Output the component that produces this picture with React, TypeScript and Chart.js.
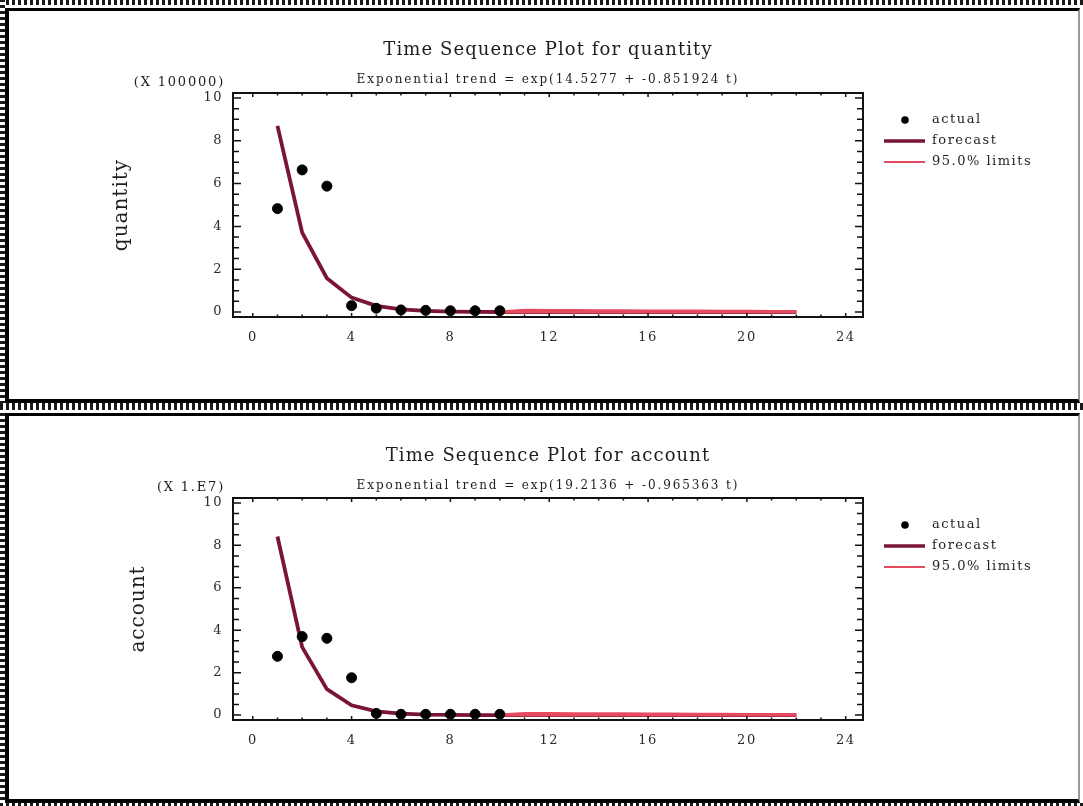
import React, { useEffect, useRef } from 'react';
import { Chart, registerables } from 'chart.js';

Chart.register(...registerables);

// ---------- data ----------
const periods = [1, 2, 3, 4, 5, 6, 7, 8, 9, 10, 11, 12, 13, 14, 15, 16, 17, 18, 19, 20, 21, 22];
const actualPeriods = [1, 2, 3, 4, 5, 6, 7, 8, 9, 10];
const limitPeriods = [10, 11, 12, 13, 14, 15, 16, 17, 18, 19, 20, 21, 22];

const X_TICKS = [0, 4, 8, 12, 16, 20, 24];
const Y_TICKS = [0, 2, 4, 6, 8, 10];

// quantity (x 100000)
const quantityActual = [4.83, 6.64, 5.88, 0.3, 0.18, 0.1, 0.08, 0.06, 0.06, 0.06];
const quantityForecast = [8.696, 3.71, 1.583, 0.675, 0.288, 0.123, 0.0524, 0.0224, 0.0095, 0.0041, 0.0017, 0.0007, 0.0003, 0.0001, 0.00006, 0.00002, 0.00001, 0, 0, 0, 0, 0];
const quantityUpper = [0.0041, 0.08, 0.075, 0.07, 0.065, 0.06, 0.055, 0.05, 0.045, 0.04, 0.035, 0.03, 0.03];
const quantityLower = [0.0041, 0, 0, 0, 0, 0, 0, 0, 0, 0, 0, 0, 0];

// account (x 1.E7)
const accountActual = [2.77, 3.7, 3.62, 1.76, 0.08, 0.04, 0.04, 0.04, 0.04, 0.04];
const accountForecast = [8.416, 3.205, 1.221, 0.465, 0.177, 0.0674, 0.0257, 0.0098, 0.0037, 0.0014, 0.00054, 0.0002, 0.00008, 0.00003, 0.00001, 0, 0, 0, 0, 0, 0, 0];
const accountUpper = [0.0014, 0.08, 0.075, 0.07, 0.065, 0.06, 0.055, 0.05, 0.045, 0.04, 0.035, 0.03, 0.03];
const accountLower = [0.0014, 0, 0, 0, 0, 0, 0, 0, 0, 0, 0, 0, 0];

const FONT = '"DejaVu Serif", "Liberation Serif", serif';
const FORECAST_COLOR = '#7a1535';
const LIMIT_COLOR = '#e64a60';

type PanelProps = {
  title: string;
  subtitle: string;
  unit: string;
  yLabel: string;
  actual: number[];
  forecast: number[];
  upper: number[];
  lower: number[];
  width: number;
  height: number;
  yLabelX: number;
  titleDy: number;
};

const pts = (xs: number[], ys: number[]) => xs.map((x, i) => ({ x, y: ys[i] }));

function Panel(p: PanelProps) {
  const ref = useRef<HTMLCanvasElement | null>(null);
  useEffect(() => {
    if (!ref.current) return;
    const decor = {
      id: 'decor',
      beforeDraw(chart: any) {
        (chart.ctx as any).letterSpacing = '1.5px';
      },
      afterDatasetsDraw(chart: any) {
        const ctx = chart.ctx as any;
        const a = chart.chartArea;
        const xs = chart.scales.x;
        const ys = chart.scales.y;
        ctx.save();
        ctx.strokeStyle = '#111';
        ctx.lineWidth = 1.5;
        // inward ticks
        ctx.beginPath();
        for (let v = 0; v <= 24; v += 1) {
          const px = xs.getPixelForValue(v);
          const len = v % 4 === 0 ? 4 : 2.5;
          ctx.moveTo(px, a.bottom);
          ctx.lineTo(px, a.bottom - len);
          ctx.moveTo(px, a.top);
          ctx.lineTo(px, a.top + len);
        }
        for (let v = 0; v <= 10; v += 0.5) {
          const py = ys.getPixelForValue(v);
          const len = v % 2 === 0 ? 8 : 6;
          ctx.moveTo(a.left, py);
          ctx.lineTo(a.left + len, py);
          ctx.moveTo(a.right, py);
          ctx.lineTo(a.right - len, py);
        }
        ctx.stroke();
        // frame
        ctx.lineWidth = 2;
        ctx.strokeRect(a.left, a.top, a.right - a.left, a.bottom - a.top);

        // titles
        const cx = (a.left + a.right) / 2;
        ctx.fillStyle = '#1e1e1e';
        ctx.textAlign = 'center';
        ctx.textBaseline = 'middle';
        ctx.letterSpacing = '1.1px';
        ctx.font = `18px ${FONT}`;
        ctx.fillText(p.title, cx, a.top - 44 + p.titleDy);
        ctx.letterSpacing = '1.9px';
        ctx.font = `12px ${FONT}`;
        ctx.fillText(p.subtitle, cx, a.top - 14 + p.titleDy);
        // unit
        ctx.textAlign = 'right';
        ctx.letterSpacing = '1.8px';
        ctx.font = `13px ${FONT}`;
        ctx.fillText(p.unit, a.left - 8, a.top - 10);
        // y label
        ctx.save();
        ctx.translate(p.yLabelX, (a.top + a.bottom) / 2);
        ctx.rotate(-Math.PI / 2);
        ctx.textAlign = 'center';
        ctx.letterSpacing = '1px';
        ctx.font = `20px ${FONT}`;
        ctx.fillText(p.yLabel, 0, 0);
        ctx.restore();

        // legend
        const lx = a.right + 21;
        const tx = a.right + 69;
        const y0 = a.top + 27;
        ctx.fillStyle = '#000';
        ctx.beginPath();
        ctx.arc(a.right + 42, y0, 3.8, 0, Math.PI * 2);
        ctx.fill();
        ctx.lineCap = 'butt';
        ctx.strokeStyle = FORECAST_COLOR;
        ctx.lineWidth = 3.5;
        ctx.beginPath();
        ctx.moveTo(lx, y0 + 21);
        ctx.lineTo(lx + 41, y0 + 21);
        ctx.stroke();
        ctx.strokeStyle = LIMIT_COLOR;
        ctx.lineWidth = 2;
        ctx.beginPath();
        ctx.moveTo(lx, y0 + 42);
        ctx.lineTo(lx + 41, y0 + 42);
        ctx.stroke();
        ctx.fillStyle = '#1e1e1e';
        ctx.textAlign = 'left';
        ctx.letterSpacing = '1.5px';
        ctx.font = `13px ${FONT}`;
        ctx.fillText('actual', tx, y0);
        ctx.fillText('forecast', tx, y0 + 21);
        ctx.fillText('95.0% limits', tx, y0 + 42);
        ctx.restore();
      },
    };

    const chart = new Chart(ref.current, {
      type: 'line',
      data: {
        datasets: [
          {
            label: 'actual',
            data: pts(actualPeriods, p.actual),
            showLine: false,
            pointRadius: 5,
            pointBackgroundColor: '#000',
            pointBorderColor: '#000',
            order: 0,
          },
          {
            label: 'upper',
            data: pts(limitPeriods, p.upper),
            borderColor: LIMIT_COLOR,
            borderWidth: 3,
            pointRadius: 0,
            order: 0.5,
          },
          {
            label: 'lower',
            data: pts(limitPeriods, p.lower),
            borderColor: LIMIT_COLOR,
            borderWidth: 3,
            pointRadius: 0,
            order: 0.5,
          },
          {
            label: 'forecast',
            data: pts(periods, p.forecast),
            borderColor: FORECAST_COLOR,
            borderWidth: 3.8,
            pointRadius: 0,
            order: 1,
          },
        ],
      },
      options: {
        responsive: false,
        animation: false,
        events: [],
        layout: { padding: { left: 0, top: 82, right: 215, bottom: 0 } },
        plugins: { legend: { display: false }, title: { display: false }, tooltip: { enabled: false } },
        scales: {
          x: {
            type: 'linear',
            min: -0.8,
            max: 24.7,
            afterBuildTicks: (s: any) => {
              s.ticks = X_TICKS.map((v) => ({ value: v }));
            },
            afterFit: (s: any) => {
              s.height = p.height - 306 + (p.height === 387 ? 0 : 2);
            },
            grid: { display: false, drawTicks: false },
            border: { display: false },
            ticks: { padding: 13, color: '#2a2a2a', font: { family: FONT, size: 13 }, maxRotation: 0, autoSkip: false },
          },
          y: {
            type: 'linear',
            min: -0.23,
            max: 10.23,
            afterBuildTicks: (s: any) => {
              s.ticks = Y_TICKS.map((v) => ({ value: v }));
            },
            afterFit: (s: any) => {
              s.width = 224;
            },
            grid: { display: false, drawTicks: false },
            border: { display: false },
            ticks: { padding: 10, color: '#2a2a2a', font: { family: FONT, size: 13 }, autoSkip: false },
          },
        },
      },
      plugins: [decor],
    } as any);
    return () => chart.destroy();
  }, []);
  return <canvas ref={ref} width={p.width} height={p.height} style={{ display: 'block' }} />;
}

const strip = (horizontal: boolean): React.CSSProperties => ({
  position: 'absolute',
  background: horizontal
    ? 'repeating-linear-gradient(90deg, #1a1a1a 0 3px, #fff 3px 6px)'
    : 'repeating-linear-gradient(0deg, #1a1a1a 0 3px, #fff 3px 6px)',
});

const panelBox = (top: number, height: number): React.CSSProperties => ({
  position: 'absolute',
  left: 5,
  top,
  width: 1075,
  height,
  boxSizing: 'border-box',
  borderTop: '3px solid #000',
  borderLeft: '4px solid #000',
  borderBottom: '4px solid #000',
  borderRight: '2px solid #999',
  background: '#fff',
});

export default function App() {
  return (
    <div style={{ position: 'absolute', left: 0, top: 0, width: 1083, height: 806, background: '#fff', overflow: 'hidden' }}>
      <div style={{ ...strip(true), left: 0, top: 0, width: 1083, height: 5 }} />
      <div style={{ ...strip(false), left: 0, top: 0, width: 5, height: 806 }} />
      <div style={{ ...strip(true), left: 0, top: 403, width: 1083, height: 7 }} />
      <div style={{ ...strip(true), left: 0, top: 803, width: 1083, height: 3 }} />
      <div style={panelBox(8, 395)}>
        <Panel
          title="Time Sequence Plot for quantity"
          subtitle="Exponential trend = exp(14.5277 + -0.851924 t)"
          unit="(X 100000)"
          yLabel="quantity"
          actual={quantityActual}
          forecast={quantityForecast}
          upper={quantityUpper}
          lower={quantityLower}
          width={1069}
          height={387}
          yLabelX={113}
          titleDy={1}
        />
      </div>
      <div style={panelBox(413, 390)}>
        <Panel
          title="Time Sequence Plot for account"
          subtitle="Exponential trend = exp(19.2136 + -0.965363 t)"
          unit="(X 1.E7)"
          yLabel="account"
          actual={accountActual}
          forecast={accountForecast}
          upper={accountUpper}
          lower={accountLower}
          width={1069}
          height={383}
          yLabelX={130}
          titleDy={2}
        />
      </div>
    </div>
  );
}
